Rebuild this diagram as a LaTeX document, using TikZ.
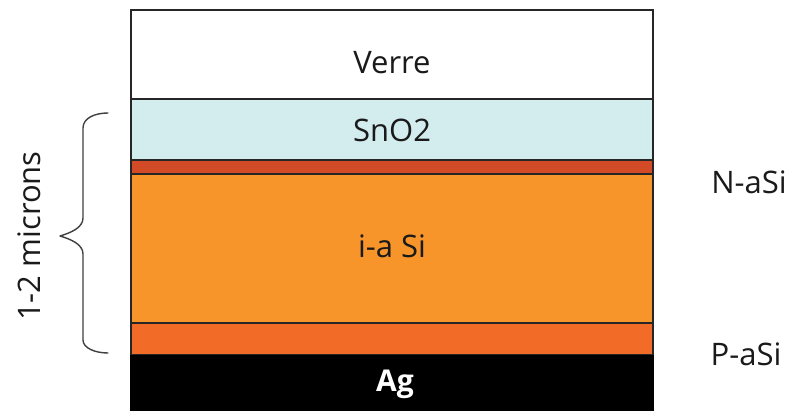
\documentclass[tikz,border=0pt]{standalone}
\usepackage{fontspec}
\setmainfont{Open Sans}
\definecolor{sno}{HTML}{D3ECEE}
\definecolor{naSi}{HTML}{D34A27}
\definecolor{iaSi}{HTML}{F7942A}
\definecolor{paSi}{HTML}{F26B27}
\definecolor{txt}{HTML}{1A1A1A}
\begin{document}
\begin{tikzpicture}[x=1pt,y=-1pt,
  layer/.style={draw=black!85, line width=1.2pt},
  lbl/.style={font=\fontsize{31}{34}\selectfont, text=txt, inner sep=0pt},
  brace/.style={draw=black!75, line width=1.4pt, line cap=round, line join=round}]
\useasboundingbox (0,0) rectangle (794,411);
\fill[white] (0,0) rectangle (794,411);
% layers
\path[layer, fill=white] (131,10) rectangle (653,99);
\path[layer, fill=sno] (131,99) rectangle (653,160);
\path[layer, fill=naSi] (131,160) rectangle (653,174);
\path[layer, fill=iaSi] (131,174) rectangle (653,323);
\path[layer, fill=paSi] (131,323) rectangle (653,355);
\fill[black] (130.4,355) rectangle (653.6,411);
% texts
\node[lbl] (verre) at (392,63) {Verre};
\node[lbl] (sno2) at (392,130) {SnO2};
\node[lbl] (ias) at (392,246) {i-a Si};
\node[lbl, text=white, font=\bfseries\fontsize{30}{34}\selectfont] (ag) at (395,384) {Ag};
\node[lbl] (nas) at (749,182) {N-aSi};
\node[lbl] (pas) at (746,354) {P-aSi};
\node[lbl, rotate=90] (mic) at (29,236) {1-2 microns};
% brace
\draw[brace] (108,113) .. controls (95,113) and (83,118) .. (83,128)
  -- (83,218) .. controls (83,228) and (70,233) .. (60,236)
  .. controls (70,239) and (83,244) .. (83,254)
  -- (83,340) .. controls (83,348) and (95,353) .. (108,353);
\end{tikzpicture}
\end{document}
